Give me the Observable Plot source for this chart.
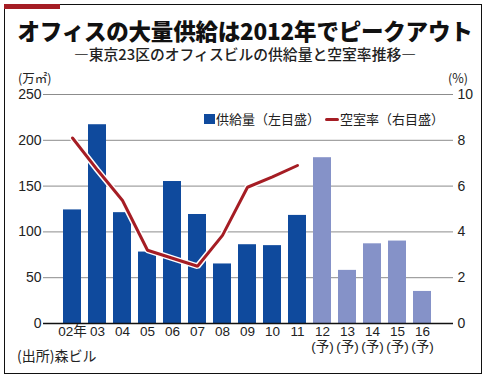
<!DOCTYPE html>
<html><head><meta charset="utf-8">
<script src="https://cdn.jsdelivr.net/npm/d3@7"></script>
<script src="https://cdn.jsdelivr.net/npm/@observablehq/plot@0.6"></script>
<style>
body{margin:0;background:#fff;}
#wrap{position:relative;width:490px;height:379px;overflow:hidden;font-family:'Noto Sans CJK JP',sans-serif;color:#222;}
#frame{position:absolute;left:4px;top:4px;width:478px;height:370px;border:1.5px solid #111;box-sizing:border-box;}
#strip{position:absolute;left:4px;top:4px;width:56px;height:5px;background:#a51d24;}
#title{position:absolute;left:0;width:490px;top:18px;text-align:center;font-size:22.5px;font-weight:900;line-height:24px;letter-spacing:-0.2px;color:#111;}
#subtitle{position:absolute;left:0;width:490px;top:46.5px;text-align:center;font-size:14.8px;font-weight:500;line-height:14px;color:#222;}
#chart{position:absolute;left:0;top:62px;}
.note{position:absolute;font-size:12.5px;line-height:12px;font-family:'Noto Sans CJK JP',sans-serif;}
#legend{position:absolute;top:109px;left:204px;font-size:13px;line-height:18px;white-space:nowrap;}
#legend span{display:inline-block;vertical-align:middle;}
</style></head>
<body>
<div id="wrap">
  <div id="frame"></div>
  <div id="strip"></div>
  <div id="title">オフィスの大量供給は2012年でピークアウト</div>
  <div id="subtitle">―東京23区のオフィスビルの供給量と空室率推移―</div>
  <div id="chart"></div>
  <div class="note" style="left:18px;top:72px;">(万㎡)</div>
  <div class="note" style="left:448px;top:72px;">(%)</div>
  <div id="legend">
    <span style="width:11px;height:10px;background:#0f4a9d;margin-right:1px;"></span><span>供給量（左目盛）</span>
    <span style="width:14px;height:3.5px;border-radius:2px;background:#a51d24;margin-left:2px;margin-right:1px;"></span><span>空室率（右目盛）</span>
  </div>
  <div class="note" style="left:17px;top:348px;font-size:14px;line-height:14px;">(出所)森ビル</div>
</div>
<script>
const categories = ["02","03","04","05","06","07","08","09","10","11","12","13","14","15","16"];
const tickLabels = ["02年","03","04","05","06","07","08","09","10","11","12\n(予)","13\n(予)","14\n(予)","15\n(予)","16\n(予)"];
const supply = [124,217,121,78,155,119,65,86,85,118,181,58,87,90,35];
const kinds = ["実績","実績","実績","実績","実績","実績","実績","実績","実績","実績","予測","予測","予測","予測","予測"];
const vacancyYears = ["02","03","04","05","06","07","08","09","10","11"];
const vacancy = [8.1,6.7,5.37,3.2,2.85,2.5,3.85,5.95,6.4,6.9];
const leftTicks = [0,50,100,150,200,250];
const rightTicks = [0,2,4,6,8,10];

const barData = categories.map((c,i)=>({year:c, supply:supply[i], kind:kinds[i]}));
const lineData = vacancyYears.map((c,i)=>({year:c, rate:vacancy[i]}));
const labelMap = new Map(categories.map((c,i)=>[c, tickLabels[i]]));
const ratio = 250/10;

const chart = Plot.plot({
  width:490, height:300,
  marginLeft:43, marginRight:37, marginTop:32, marginBottom:39,
  style:{fontFamily:"'Liberation Sans','Noto Sans CJK JP',sans-serif", fontSize:"14px", color:"#222", background:"transparent"},
  x:{type:"band", domain:categories, insetLeft:13.3, insetRight:16.3, paddingInner:0.29, paddingOuter:0.145},
  y:{domain:[0,250]},
  color:{domain:["実績","予測"], range:["#0f4a9d","#8592c8"]},
  marks:[
    Plot.gridY(leftTicks,{stroke:"#8c8c8c", strokeOpacity:1, strokeWidth:1}),
    Plot.barY(barData,{x:"year", y:"supply", fill:"kind"}),
    Plot.ruleY([0],{stroke:"#111", strokeWidth:1.3}),
    Plot.line(lineData,{x:"year", y:d=>d.rate*ratio, stroke:"white", strokeWidth:6, strokeLinejoin:"miter"}),
    Plot.line(lineData,{x:"year", y:d=>d.rate*ratio, stroke:"#a51d24", strokeWidth:3, strokeLinejoin:"miter"}),
    Plot.axisY(leftTicks,{anchor:"left", tickSize:0, tickPadding:2, label:null}),
    Plot.axisY(rightTicks.map(t=>t*ratio),{anchor:"right", tickSize:0, tickPadding:4, tickFormat:d=>d/ratio, label:null}),
    Plot.axisX({tickSize:0, tickPadding:3, tickFormat:d=>labelMap.get(d), label:null, fontSize:13.5, lineHeight:1.04})
  ]
});
document.getElementById("chart").appendChild(chart);
</script>
</body></html>
